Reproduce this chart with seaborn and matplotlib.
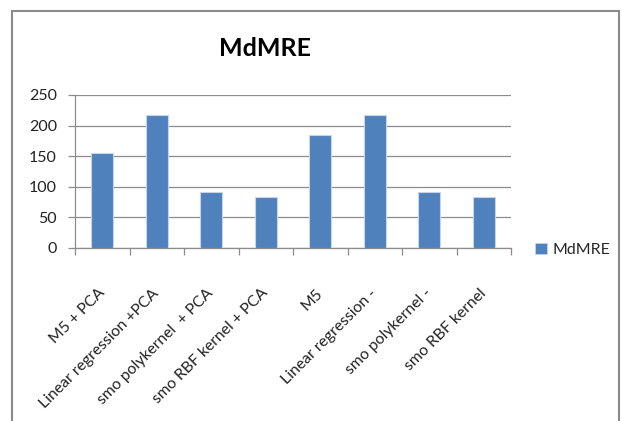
import matplotlib
matplotlib.use("Agg")
import matplotlib.pyplot as plt
from matplotlib.patches import Rectangle
import seaborn as sns
import pandas as pd

categories = ["M5 + PCA", "Linear regression +PCA", "smo polykernel  + PCA",
              "smo RBF kernel + PCA", "M5", "Linear regression -",
              "smo polykernel -", "smo RBF kernel"]
mdmre = [156, 218, 92, 84, 185, 218, 91, 83]
y_ticks = [0, 50, 100, 150, 200, 250]
series_name = "MdMRE"

df = pd.DataFrame({"method": categories, "value": mdmre})

sns.set_style("white")
plt.rcParams["font.family"] = ["Lato", "DejaVu Sans"]

W, H = 622, 421
fig = plt.figure(figsize=(W / 100, H / 100), dpi=100)
ax = fig.add_axes([75 / W, 1 - 248 / H, (511 - 75) / W, (248 - 95) / H])

bar_color = "#4F81BD"
sns.barplot(data=df, x="method", y="value", color=bar_color, width=0.4,
            edgecolor="#c6d5ea", linewidth=0.8, saturation=1, ax=ax, zorder=3)

ax.set_ylim(0, 250)
ax.set_xlim(-0.5, len(categories) - 0.5)
ax.set_yticks(y_ticks)
ax.set_yticklabels([str(v) for v in y_ticks], fontsize=11.5, color="#222222")
ax.yaxis.grid(True, color="#8c8c8c", linewidth=0.9, zorder=0)
ax.set_xlabel("")
ax.set_ylabel("")

for s in ["top", "right"]:
    ax.spines[s].set_visible(False)
for s in ["left", "bottom"]:
    ax.spines[s].set_color("#8c8c8c")
    ax.spines[s].set_linewidth(0.9)

# y ticks point outward; x ticks sit at category boundaries
ax.tick_params(axis="y", length=5, width=0.9, color="#8c8c8c", pad=8, left=True)
ax.set_xticks([i - 0.5 for i in range(len(categories) + 1)], minor=True)
ax.tick_params(axis="x", which="minor", length=5, width=0.9, color="#8c8c8c", bottom=True)
ax.set_xticks(range(len(categories)))
ax.tick_params(axis="x", which="major", length=0, pad=31)
ax.set_xticklabels(categories, rotation=45, ha="right", va="center",
                   rotation_mode="anchor", fontsize=11.3, color="#222222")

fig.text(265 / W, 1 - 48 / H, "MdMRE", ha="center", va="center",
         fontsize=18, fontweight="bold", color="black")

handle = Rectangle((0, 0), 1, 1, facecolor=bar_color, edgecolor="#c6d5ea", linewidth=0.5)
fig.legend([handle], [series_name], loc="center left",
           bbox_to_anchor=(521 / W, 1 - 250 / H), frameon=False, fontsize=11.5,
           handlelength=0.7, handleheight=0.7, handletextpad=0.4)

fig.patches.append(Rectangle((12 / W, -0.05), (619 - 12) / W, 1.05 - 11 / H,
                             transform=fig.transFigure, fill=False,
                             edgecolor="#8a8a8a", linewidth=1.5))

fig.savefig("out.png", dpi=100, facecolor="white")
